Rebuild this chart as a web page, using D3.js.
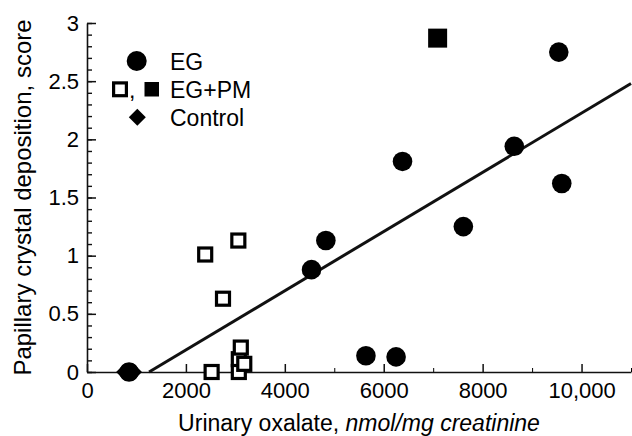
<!DOCTYPE html>
<html>
<head>
<meta charset="utf-8">
<script src="https://cdn.jsdelivr.net/npm/d3@7"></script>
<style>
    body { margin: 0; background: #fff; }
    svg { display: block; font-family: "Liberation Sans", Arial, Helvetica, sans-serif; }
</style>
</head>
<body>
<svg id="chart"></svg>
<script>
// values (x: nmol/mg creatinine, y: score)
const egPoints = [
    { x: 850, y: 0 }, { x: 4540, y: 0.88 }, { x: 4830, y: 1.13 },
    { x: 5640, y: 0.14 }, { x: 6250, y: 0.13 }, { x: 6380, y: 1.81 },
    { x: 7610, y: 1.25 }, { x: 8640, y: 1.94 }, { x: 9540, y: 2.75 },
    { x: 9600, y: 1.62 }
];
const egPmFilled = [ { x: 7090, y: 2.87 } ];
const egPmOpen = [
    { x: 3070, y: 0.11 }, { x: 2390, y: 1.01 }, { x: 3060, y: 1.13 },
    { x: 2750, y: 0.63 }, { x: 3070, y: 0 }, { x: 3110, y: 0.21 },
    { x: 3180, y: 0.07 }, { x: 2520, y: 0 }
];
const controlPoints = [ { x: 760, y: 0 }, { x: 940, y: 0 } ];
const fitLine = [ { x: 1255, y: 0 }, { x: 11000, y: 2.48 } ];

const xMajorTicks = [0, 2000, 4000, 6000, 8000, 10000];
const xMinorTicks = [1000, 3000, 5000, 7000, 9000, 11000];
const yMajorTicks = [0, 0.5, 1, 1.5, 2, 2.5, 3];
const yMinorTicks = d3.range(0, 31).map(d => d / 10);

const width = 632, height = 436;
const svg = d3.select("#chart").attr("width", width).attr("height", height);

const x = d3.scaleLinear().domain([0, 11000]).range([87, 631]);
const y = d3.scaleLinear().domain([0, 3]).range([372, 23]);

const ink = "#111";

// x axis: minor then major ticks, all pointing inward
svg.append("g")
    .attr("transform", `translate(0,${y(0)})`)
    .call(d3.axisBottom(x).tickValues(xMinorTicks).tickSizeInner(-4).tickSizeOuter(0).tickFormat(""))
    .call(g => g.select(".domain").remove());

svg.append("g")
    .attr("transform", `translate(0,${y(0)})`)
    .call(d3.axisBottom(x).tickValues(xMajorTicks).tickSizeInner(-8).tickSizeOuter(0).tickPadding(10)
        .tickFormat(d => d >= 10000 ? d3.format(",")(d) : d))
    .call(g => g.select(".domain").attr("stroke", ink).attr("stroke-width", 1.6))
    .call(g => g.selectAll(".tick line").attr("stroke", ink).attr("stroke-width", 1.5))
    .call(g => g.selectAll("text").attr("font-size", 22).attr("fill", "#000").attr("font-family", null));

// y axis
svg.append("g")
    .attr("transform", `translate(${x(0)},0)`)
    .call(d3.axisLeft(y).tickValues(yMinorTicks).tickSizeInner(-5).tickSizeOuter(0).tickFormat(""))
    .call(g => g.select(".domain").remove())
    .call(g => g.selectAll(".tick line").attr("stroke", ink).attr("stroke-width", 1.4));

svg.append("g")
    .attr("transform", `translate(${x(0)},0)`)
    .call(d3.axisLeft(y).tickValues(yMajorTicks).tickSizeInner(-9).tickSizeOuter(0).tickPadding(8)
        .tickFormat(d3.format("")))
    .call(g => g.select(".domain").attr("stroke", ink).attr("stroke-width", 1.6))
    .call(g => g.selectAll(".tick line").attr("stroke", ink).attr("stroke-width", 1.5))
    .call(g => g.selectAll("text").attr("font-size", 22).attr("fill", "#000").attr("font-family", null));

// axis titles
const xTitle = svg.append("text")
    .attr("x", (x(0) + x(11000)) / 2)
    .attr("y", 431)
    .attr("text-anchor", "middle")
    .attr("font-size", 23);
xTitle.append("tspan").text("Urinary oxalate, ");
xTitle.append("tspan").attr("font-style", "italic").text("nmol/mg creatinine");

svg.append("text")
    .attr("transform", `translate(31,${(y(0) + y(3)) / 2}) rotate(-90)`)
    .attr("text-anchor", "middle")
    .attr("font-size", 24)
    .text("Papillary crystal deposition, score");

// regression line
svg.append("path")
    .datum(fitLine)
    .attr("d", d3.line().x(d => x(d.x)).y(d => y(d.y)))
    .attr("fill", "none")
    .attr("stroke", ink)
    .attr("stroke-width", 3);

// points
const diamond = d3.symbol().type(d3.symbolSquare).size(144);

svg.selectAll(".ctrl")
    .data(controlPoints)
    .enter()
    .append("path")
    .attr("class", "ctrl")
    .attr("d", diamond)
    .attr("transform", d => `translate(${x(d.x)},${y(d.y)}) rotate(45)`)
    .attr("fill", "#000");

svg.selectAll(".open")
    .data(egPmOpen)
    .enter()
    .append("rect")
    .attr("class", "open")
    .attr("x", d => x(d.x) - 6.5)
    .attr("y", d => y(d.y) - 6.5)
    .attr("width", 13)
    .attr("height", 13)
    .attr("fill", "#fff")
    .attr("stroke", "#000")
    .attr("stroke-width", 3.2);

svg.selectAll(".filled")
    .data(egPmFilled)
    .enter()
    .append("rect")
    .attr("class", "filled")
    .attr("x", d => x(d.x) - 9.5)
    .attr("y", d => y(d.y) - 9.5)
    .attr("width", 19)
    .attr("height", 19)
    .attr("fill", "#000");

svg.selectAll(".eg")
    .data(egPoints)
    .enter()
    .append("circle")
    .attr("class", "eg")
    .attr("cx", d => x(d.x))
    .attr("cy", d => y(d.y))
    .attr("r", 9.8)
    .attr("fill", "#000");

// legend
const legend = svg.append("g").attr("font-size", 23);

legend.append("circle").attr("cx", 136.7).attr("cy", 61).attr("r", 10).attr("fill", "#000");
legend.append("text").attr("x", 170).attr("y", 70).text("EG");

legend.append("rect").attr("x", 113.6).attr("y", 82.9).attr("width", 12.8).attr("height", 12.8)
    .attr("fill", "#fff").attr("stroke", "#000").attr("stroke-width", 3.2);
legend.append("text").attr("x", 129).attr("y", 98).text(",");
legend.append("rect").attr("x", 144.5).attr("y", 82).attr("width", 14.5).attr("height", 14.5).attr("fill", "#000");
legend.append("text").attr("x", 170).attr("y", 98).text("EG+PM");

legend.append("path").attr("d", diamond).attr("transform", "translate(137.3,117.3) rotate(45)").attr("fill", "#000");
legend.append("text").attr("x", 170).attr("y", 126).text("Control");
</script>
</body>
</html>
